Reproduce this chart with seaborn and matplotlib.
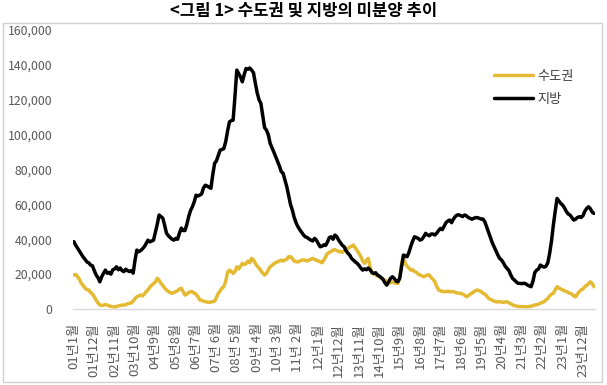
import matplotlib
matplotlib.use("Agg")
import matplotlib.pyplot as plt
import seaborn as sns
import pandas as pd
from matplotlib.patches import Rectangle
from matplotlib.lines import Line2D

# ---------------- data ----------------
title = "<그림 1> 수도권 및 지방의 미분양 추이"
series_names = ["수도권", "지방"]

# monthly categories 2001.1 ~ 2024.6
months = []
for yy in range(1, 25):
    for mm in range(1, 13):
        months.append(f"{yy:02d}년{mm}월")
months = months[:282]

tick_labels = ["01년1월", "01년12월", "02년11월", "03년10월", "04년9월", "05년8월",
               "06년7월", "07년 6월", "08년 5월", "09년 4월", "10년 3월", "11년 2월",
               "12년1월", "12년12월", "13년11월", "14년10월", "15년9월", "16년8월",
               "17년7월", "18년6월", "19년5월", "20년4월", "21년3월", "22년2월",
               "23년1월", "23년12월"]

capital = [  # 수도권
    19500, 19800, 18500, 17000, 14700, 13500, 12000, 11000, 10900, 9500, 8500, 7000,
    5000, 3500, 2300, 2000, 2200, 2500, 2300, 1800, 1500, 1300, 1200, 1400,
    1800, 2000, 2300, 2200, 2500, 3000, 3300, 3500, 4500, 6000, 7000, 7500,
    8000, 7500, 8500, 9900, 11000, 12500, 13700, 14500, 15500, 17600, 16500, 14700,
    13500, 12000, 10900, 10000, 9500, 9000, 9500, 10000, 10500, 11500, 11900, 10000,
    8000, 8500, 9500, 9900, 9900, 9000, 8500, 7000, 5200, 5000, 4500, 4200,
    4000, 3800, 4000, 4200, 4500, 6500, 9000, 10500, 12000, 12800, 16000, 21000,
    22300, 21500, 20400, 21500, 24200, 23000, 24500, 26200, 25500, 26000, 27500, 26500,
    29000, 28000, 26200, 24500, 23500, 22000, 20500, 19500, 20500, 22500, 24200, 25000,
    26000, 26500, 27100, 27500, 28000, 27500, 28100, 28500, 30000, 30000, 29000, 27500,
    27100, 27000, 27500, 28000, 28100, 28000, 27500, 28000, 28500, 29000, 28500, 28000,
    27500, 27100, 26500, 28000, 30000, 31900, 32500, 33000, 33800, 34000, 33500, 33000,
    32800, 32500, 33500, 34500, 34800, 35500, 36000, 36700, 35000, 33500, 31900, 30000,
    27500, 26200, 28000, 29000, 24000, 20400, 20000, 19500, 19000, 18500, 17600, 17000,
    16500, 16000, 15600, 15000, 15500, 15000, 14800, 14700, 18000, 26000, 30000, 26000,
    24500, 23500, 22300, 22500, 21500, 21000, 20000, 19500, 19000, 18500, 19000, 19500,
    19500, 18000, 17000, 15600, 13000, 10900, 10500, 10000, 10000, 9900, 10200, 9900,
    9900, 10000, 9500, 9200, 9000, 9000, 8500, 8000, 7000, 7500, 8500, 9000,
    9900, 10500, 10900, 10500, 10000, 9000, 8500, 7500, 6100, 5500, 5000, 4500,
    4200, 4000, 4200, 4000, 3800, 4000, 4200, 3500, 3000, 2300, 2000, 1700,
    1500, 1300, 1400, 1300, 1300, 1300, 1500, 1500, 2000, 2300, 2500, 2800,
    3300, 3800, 4200, 5200, 6000, 7500, 8500, 9000, 11000, 12800, 12000, 11500,
    10900, 10500, 10000, 9500, 9000, 8500, 7500, 7000, 8500, 10000, 10900, 11500,
    12800, 13500, 14500, 15600, 14500, 12800,
]

local = [  # 지방
    38600, 36500, 34800, 33000, 31500, 29800, 28500, 27000, 26500, 25200, 24800, 22000,
    19500, 18000, 15600, 18500, 20500, 22300, 20500, 21000, 20000, 22500, 23000, 24200,
    22500, 23500, 22000, 21400, 22800, 22000, 21500, 22000, 20600, 28000, 33800, 32800,
    33500, 34500, 35700, 37500, 39500, 38500, 39000, 39500, 44000, 48500, 53900, 53000,
    52100, 48000, 43500, 42000, 41000, 40000, 39500, 40500, 40000, 43500, 46400, 45000,
    45000, 48500, 53000, 56500, 58600, 61500, 65300, 64800, 65300, 66000, 69500, 71000,
    70500, 69800, 69200, 77000, 83500, 85000, 88000, 91100, 91500, 92000, 96000, 102000,
    107300, 108000, 108300, 122000, 137000, 135000, 133000, 130300, 134500, 137900, 137500, 138200,
    137000, 135500, 129500, 124000, 120000, 117900, 111000, 104000, 102600, 100000, 95000, 92500,
    90000, 87300, 84500, 82000, 78800, 77800, 74000, 70100, 65000, 60000, 56700, 52500,
    49500, 47200, 45500, 44000, 42500, 41400, 41000, 40200, 39500, 39000, 40500, 39500,
    37500, 35700, 36000, 36800, 36500, 38500, 41000, 41400, 40000, 42400, 41500, 39500,
    38000, 36500, 35700, 33500, 32000, 30900, 29000, 28000, 27000, 26200, 25000, 23500,
    22300, 23000, 22500, 23500, 22500, 21000, 20400, 20800, 19500, 18800, 18000, 17000,
    15000, 13700, 15500, 17500, 18500, 17600, 16000, 15600, 17600, 24200, 30900, 30500,
    30000, 32500, 36000, 39000, 41400, 41000, 40500, 39500, 40000, 41500, 43400, 42500,
    42000, 43000, 43000, 42400, 43500, 45000, 46200, 45500, 47500, 49500, 50500, 51000,
    49500, 51500, 53000, 53900, 54000, 53500, 53000, 53900, 53500, 52500, 52000, 51500,
    52000, 52400, 52400, 52000, 51600, 51600, 50000, 47000, 44000, 41000, 38000, 35700,
    33500, 31000, 29000, 28100, 26500, 24500, 23300, 22000, 19500, 17500, 16600, 15500,
    14700, 14700, 14500, 14800, 14500, 13800, 13200, 12800, 16000, 21000, 22300, 23000,
    25200, 24500, 24000, 24500, 26500, 31900, 39000, 48100, 56000, 63400, 62000, 60500,
    59600, 58000, 56000, 54500, 53900, 52500, 51000, 51500, 52500, 52900, 52500, 53500,
    56000, 57700, 58600, 57500, 55500, 54800,
]

colors = {"수도권": "#E5BA33", "지방": "#000000"}

# ---------------- build frame ----------------
n = len(months)
df = pd.DataFrame({
    "pos": list(range(n)) * 2,
    "월": months * 2,
    "value": capital[:n] + local[:n],
    "series": [series_names[0]] * n + [series_names[1]] * n,
})

# ---------------- plot ----------------
sns.set_theme(style="white")
plt.rcParams["font.family"] = ["Noto Sans CJK KR", "DejaVu Sans"]

W, H = 607, 385
fig = plt.figure(figsize=(W / 100, H / 100), dpi=100)
ax = fig.add_axes([73 / W, (H - 309) / H, 522 / W, 279 / H])

sns.lineplot(data=df, x="pos", y="value", hue="series", palette=colors,
             hue_order=series_names, linewidth=2.5, ax=ax, legend=False)

ax.set_xlim(-0.5, n - 0.5)
ax.set_ylim(0, 160000)
ax.set_yticks(range(0, 160001, 20000))
ax.set_yticklabels([f"{v:,}" for v in range(0, 160001, 20000)])
tick_pos = list(range(0, n, 11))[:len(tick_labels)]
ax.set_xticks(tick_pos)
ax.set_xticklabels(tick_labels, rotation=90)
ax.tick_params(axis="y", length=0, pad=15, labelsize=8.8, labelcolor="#595959")
ax.tick_params(axis="x", length=0, pad=10, labelsize=9.5, labelcolor="#595959")
ax.set_xlabel("")
ax.set_ylabel("")
ax.grid(False)
for s in ["top", "right", "left"]:
    ax.spines[s].set_visible(False)
ax.spines["bottom"].set_color("#D9D9D9")
ax.spines["bottom"].set_linewidth(1.0)

# legend
handles = [Line2D([], [], color=colors[s], lw=2.5) for s in series_names]
fig.legend(handles, series_names, loc="upper left",
           bbox_to_anchor=(482 / W, 1 - 58 / H), frameon=False,
           handlelength=3.0, handletextpad=0.3, labelspacing=0.75,
           prop={"size": 9.5})
for t in fig.legends[0].get_texts():
    t.set_color("#404040")

# chart border and title
fig.patches.append(Rectangle((3 / W, 3 / H), 599 / W, 359 / H,
                             transform=fig.transFigure, fill=False,
                             edgecolor="#D0D0D0", linewidth=1.0))
fig.text(0.5, 1 - 11 / H, title, ha="center", va="center",
         fontsize=12, fontweight="bold", color="#000000")

fig.savefig("out.png", dpi=100)
